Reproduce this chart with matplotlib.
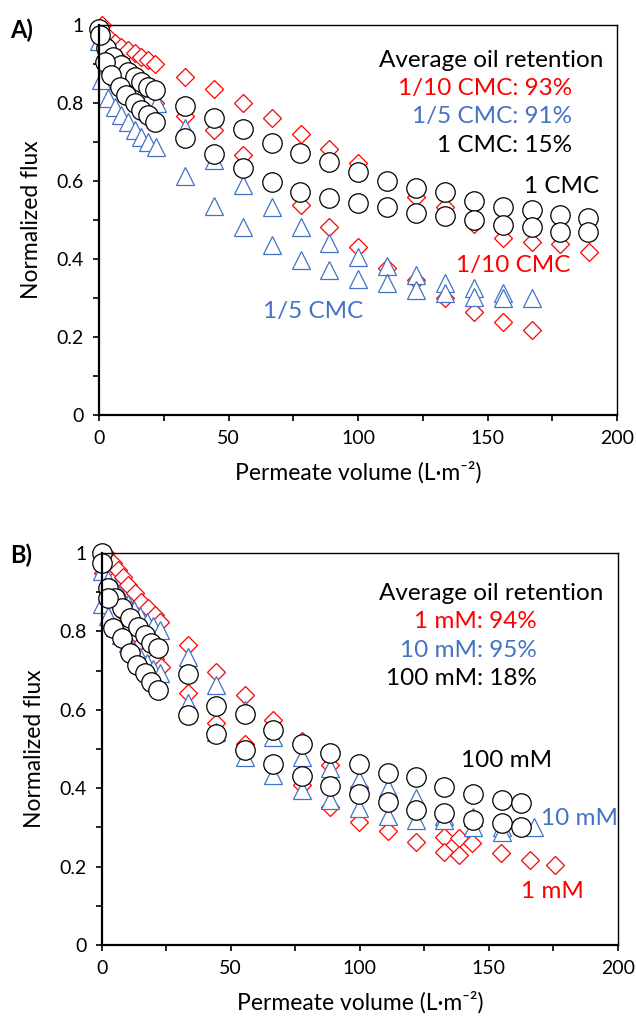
import matplotlib
matplotlib.use("Agg")
import matplotlib.pyplot as plt
from matplotlib.ticker import MultipleLocator, FuncFormatter

plt.rcParams['font.family'] = ['Lato', 'DejaVu Sans']

RED = '#FF0000'
BLUE = '#4472C4'
BLACK = '#000000'

# ---- panel A: surfactant concentration (two runs per condition) ----
a_red1_x = [1.0, 3.5, 6.0, 8.6, 11.2, 13.8, 16.3, 18.9, 21.5,
            33.2, 44.4, 55.7, 66.8, 77.9, 88.9, 100.0, 111.1, 122.4, 133.6, 144.8, 155.9, 167.0, 178.0, 189.0]
a_red1_y = [1.0, 0.97, 0.955, 0.944, 0.936, 0.927, 0.919, 0.91, 0.90,
            0.866, 0.836, 0.799, 0.762, 0.721, 0.683, 0.645, 0.60, 0.56, 0.534, 0.49, 0.453, 0.444, 0.438, 0.419]
a_red2_x = [1.5, 3.5, 6.0, 8.6, 11.2, 13.8, 16.3, 18.9, 21.5,
            33.2, 44.4, 55.7, 66.8, 77.9, 88.9, 100.0, 111.1, 122.4, 133.6, 144.8, 155.9, 167.0]
a_red2_y = [0.96, 0.93, 0.90, 0.88, 0.86, 0.84, 0.82, 0.81, 0.80,
            0.767, 0.731, 0.667, 0.60, 0.538, 0.483, 0.432, 0.376, 0.345, 0.299, 0.265, 0.239, 0.218]

a_blue1_x = [0.0, 2.2, 4.7, 8.0, 10.5, 13.8, 16.3, 18.9, 22.3,
             33.2, 44.4, 55.7, 66.8, 77.9, 88.9, 100.0, 111.1, 122.4, 133.6, 144.8, 155.9, 167.0]
a_blue1_y = [0.96, 0.93, 0.90, 0.87, 0.85, 0.835, 0.82, 0.81, 0.80,
             0.735, 0.654, 0.59, 0.534, 0.481, 0.44, 0.406, 0.383, 0.359, 0.339, 0.325, 0.314, 0.299]
a_blue2_x = [0.8, 3.5, 6.0, 8.6, 11.2, 13.8, 16.3, 18.9, 22.0,
             33.2, 44.4, 55.7, 66.8, 77.9, 88.9, 100.0, 111.1, 122.4, 133.6, 144.8, 155.9]
a_blue2_y = [0.86, 0.812, 0.79, 0.769, 0.752, 0.731, 0.714, 0.70, 0.688,
             0.614, 0.536, 0.482, 0.435, 0.397, 0.371, 0.35, 0.338, 0.321, 0.312, 0.303, 0.299]

a_blk1_x = [0.0, 2.8, 5.4, 8.6, 11.2, 13.8, 16.3, 18.9, 21.5,
            33.2, 44.4, 55.5, 66.7, 77.6, 88.9, 99.9, 111.3, 122.4, 133.6, 144.8, 155.9, 167.0, 178.0, 188.9]
a_blk1_y = [0.99, 0.94, 0.919, 0.897, 0.88, 0.867, 0.855, 0.842, 0.833,
            0.793, 0.761, 0.733, 0.698, 0.673, 0.648, 0.624, 0.60, 0.581, 0.573, 0.549, 0.534, 0.526, 0.513, 0.504]
a_blk2_x = [0.3, 2.2, 4.7, 8.0, 10.5, 13.8, 16.3, 18.9, 21.5,
            33.2, 44.4, 55.5, 66.7, 77.6, 88.9, 99.9, 111.3, 122.4, 133.6, 144.8, 155.9, 167.0, 178.0, 188.9]
a_blk2_y = [0.975, 0.906, 0.872, 0.842, 0.821, 0.80, 0.782, 0.769, 0.752,
            0.709, 0.669, 0.633, 0.598, 0.573, 0.557, 0.543, 0.534, 0.517, 0.509, 0.50, 0.487, 0.483, 0.47, 0.47]

# ---- panel B: salt concentration ----
b_red1_x = [1.3, 4.5, 6.4, 8.3, 10.2, 12.8, 15.4, 17.9, 20.5, 22.4,
            33.3, 44.2, 55.4, 66.5, 77.5, 88.6, 99.7, 110.9, 121.8, 132.7, 138.5, 143.6]
b_red1_y = [1.0, 0.975, 0.957, 0.94, 0.918, 0.897, 0.876, 0.859, 0.842, 0.825,
            0.765, 0.697, 0.638, 0.574, 0.52, 0.459, 0.404, 0.37, 0.34, 0.276, 0.272, 0.261]
b_red2_x = [0.5, 3.0, 5.5, 8.0, 10.5, 13.0, 15.5, 18.0, 20.5, 23.0,
            33.3, 44.2, 55.4, 66.5, 77.5, 88.6, 99.7, 110.9, 121.8, 132.7, 138.5, 154.5, 166.0, 175.6]
b_red2_y = [0.95, 0.91, 0.88, 0.85, 0.82, 0.795, 0.77, 0.75, 0.73, 0.71,
            0.642, 0.567, 0.514, 0.451, 0.408, 0.351, 0.315, 0.292, 0.264, 0.238, 0.23, 0.234, 0.217, 0.204]

b_blue1_x = [0.0, 2.5, 5.0, 7.5, 10.0, 12.5, 15.0, 17.5, 20.0, 22.4,
             33.3, 44.2, 55.4, 66.5, 77.5, 88.6, 99.7, 110.9, 121.8, 132.7, 144.0, 155.0, 167.3]
b_blue1_y = [0.955, 0.93, 0.91, 0.89, 0.87, 0.855, 0.84, 0.825, 0.815, 0.804,
             0.735, 0.663, 0.599, 0.531, 0.48, 0.451, 0.421, 0.40, 0.374, 0.33, 0.327, 0.302, 0.302]
b_blue2_x = [0.0, 2.5, 5.0, 7.5, 10.0, 12.5, 15.0, 17.5, 20.0, 22.4,
             33.3, 44.2, 55.4, 66.5, 77.5, 88.6, 99.7, 110.9, 121.8, 132.7, 144.0, 155.0]
b_blue2_y = [0.87, 0.84, 0.81, 0.79, 0.77, 0.75, 0.735, 0.72, 0.705, 0.693,
             0.617, 0.544, 0.48, 0.434, 0.395, 0.37, 0.349, 0.33, 0.319, 0.319, 0.302, 0.289]

b_blk1_x = [0.0, 2.5, 5.1, 7.7, 10.9, 14.1, 16.7, 19.2, 22.0,
            33.3, 44.2, 55.4, 66.5, 77.5, 88.6, 99.7, 110.9, 121.8, 132.7, 144.0, 155.0, 162.3]
b_blk1_y = [1.0, 0.91, 0.884, 0.859, 0.833, 0.812, 0.791, 0.77, 0.757,
            0.691, 0.61, 0.589, 0.548, 0.514, 0.489, 0.463, 0.44, 0.428, 0.404, 0.385, 0.37, 0.361]
b_blk2_x = [0.3, 2.5, 4.5, 7.7, 10.9, 13.5, 16.7, 19.2, 22.0,
            33.3, 44.2, 55.4, 66.5, 77.5, 88.6, 99.7, 110.9, 121.8, 132.7, 144.0, 155.0, 162.3]
b_blk2_y = [0.975, 0.884, 0.808, 0.782, 0.744, 0.714, 0.693, 0.672, 0.65,
            0.587, 0.537, 0.498, 0.463, 0.432, 0.406, 0.385, 0.366, 0.344, 0.336, 0.319, 0.312, 0.302]

a_retention = ["Average oil retention", "1/10 CMC: 93%", "1/5 CMC: 91%", "1 CMC: 15%"]
b_retention = ["Average oil retention", "1 mM: 94%", "10 mM: 95%", "100 mM: 18%"]

W, H = 636, 1018
fig = plt.figure(figsize=(W / 100, H / 100), dpi=100)


def px_axes(l, t, r, b):
    return fig.add_axes([l / W, 1 - b / H, (r - l) / W, (b - t) / H])


def ftext(x, y, s, **kw):
    # place text by pixel position in the figure
    fig.text(x / W, 1 - y / H, s, **kw)


def style(ax):
    ax.set_xlim(0, 200)
    ax.set_ylim(0, 1)
    ax.xaxis.set_major_locator(MultipleLocator(50))
    ax.xaxis.set_minor_locator(MultipleLocator(25))
    ax.yaxis.set_major_locator(MultipleLocator(0.2))
    ax.yaxis.set_minor_locator(MultipleLocator(0.1))
    ax.yaxis.set_major_formatter(FuncFormatter(lambda v, p: '%g' % round(v, 2)))
    ax.tick_params(which='both', direction='out', length=4.5, width=1.2,
                   labelsize=14, pad=6.5, top=False, right=False)
    for s in ['left', 'bottom']:
        ax.spines[s].set_linewidth(1.6)
    for s in ['top', 'right']:
        ax.spines[s].set_linewidth(1.0)
    ax.set_ylabel('Normalized flux', fontsize=16.5, labelpad=10)
    ax.set_xlabel('Permeate volume (L·m⁻²)', fontsize=16.5, labelpad=10)


def draw(ax, series):
    for xs, ys, mk, ms, col in series:
        ax.plot(xs, ys, linestyle='none', marker=mk, markersize=ms,
                markerfacecolor='white', markeredgecolor=col,
                markeredgewidth=0.9, clip_on=False)


axA = px_axes(99, 25, 617, 415)
style(axA)
draw(axA, [
    (a_red1_x, a_red1_y, 'D', 9, RED), (a_red2_x, a_red2_y, 'D', 9, RED),
    (a_blue1_x, a_blue1_y, '^', 13, BLUE), (a_blue2_x, a_blue2_y, '^', 13, BLUE),
    (a_blk1_x, a_blk1_y, 'o', 14, BLACK), (a_blk2_x, a_blk2_y, 'o', 14, BLACK),
])

axB = px_axes(101.7, 553, 618, 945)
style(axB)
draw(axB, [
    (b_red1_x, b_red1_y, 'D', 9, RED), (b_red2_x, b_red2_y, 'D', 9, RED),
    (b_blue1_x, b_blue1_y, '^', 13, BLUE), (b_blue2_x, b_blue2_y, '^', 13, BLUE),
    (b_blk1_x, b_blk1_y, 'o', 14, BLACK), (b_blk2_x, b_blk2_y, 'o', 14, BLACK),
])

# panel letters
ftext(10, 38, 'A)', fontsize=17, fontweight='bold')
ftext(10, 563, 'B)', fontsize=17, fontweight='bold')

# retention notes
cols = [BLACK, RED, BLUE, BLACK]
ftext(603, 66.7, a_retention[0], fontsize=17.5, ha='right', color=cols[0])
for s, c, yy in zip(a_retention[1:], cols[1:], [95, 123.3, 151.7]):
    ftext(572, yy, s, fontsize=17.5, ha='right', color=c)
ftext(603, 600, b_retention[0], fontsize=17.5, ha='right', color=cols[0])
for s, c, yy in zip(b_retention[1:], cols[1:], [628.3, 656.7, 685]):
    ftext(537, yy, s, fontsize=17.5, ha='right', color=c)

# series labels
ftext(599, 193, '1 CMC', fontsize=17.5, ha='right', color=BLACK)
ftext(570, 272, '1/10 CMC', fontsize=17.5, ha='right', color=RED)
ftext(263, 318, '1/5 CMC', fontsize=17.5, color=BLUE)
ftext(461, 767, '100 mM', fontsize=17.5, color=BLACK)
ftext(541, 825, '10 mM', fontsize=17.5, color=BLUE)
ftext(521, 898, '1 mM', fontsize=17.5, color=RED)

fig.savefig('out.png', dpi=100)
